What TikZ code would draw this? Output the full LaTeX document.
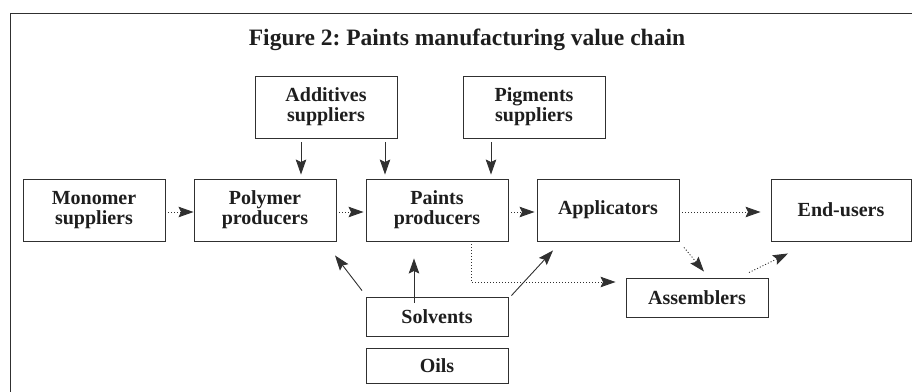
\documentclass[tikz,border=0pt]{standalone}
\usepackage{fontspec}
\setmainfont{Liberation Serif}
\usetikzlibrary{arrows.meta}
\definecolor{ink}{HTML}{1E1E1E}
\definecolor{rule}{HTML}{303030}
\frenchspacing
\begin{document}
\begin{tikzpicture}[x=1pt,y=-1pt,
  box/.style={draw=rule,line width=0.9pt,rectangle,minimum width=142pt,
    minimum height=62pt,inner sep=0pt,align=center,text=ink,
    font=\fontsize{20}{20}\selectfont\bfseries},
  flatbox/.style={box,minimum height=39pt},
  feed/.style={draw=rule,line width=0.9pt,-{Stealth[length=15pt,width=10.5pt,inset=2.5pt]}},
  flow/.style={feed,dash pattern=on 1pt off 2pt},
]
\useasboundingbox (0,0) rectangle (912,391);
% outer frame, open towards the bottom and right
\draw[rule,line width=0.9pt] (10,395) -- (10,13) -- (916,13);
\node[anchor=base,text=ink,font=\fontsize{23.5}{26}\selectfont\bfseries] (title) at (467,45)
  {Figure 2: Paints manufacturing value chain};

% boxes
\node[box] (add)   at (326,107) {Additives\\suppliers};
\node[box] (pig)   at (534,107) {Pigments\\suppliers};
\node[box] (mono)  at (94,210)  {Monomer\\suppliers};
\node[box] (poly)  at (265,210) {Polymer\\producers};
\node[box] (paint) at (437,210) {Paints\\producers};
\node[box] (appl)  at (608,210) {Applicators};
\node[box,minimum width=140pt] (end) at (841,210) {End-users};
\node[flatbox] (asm)  at (697,297.5) {Assemblers};
\node[flatbox] (solv) at (437,316.5) {Solvents};
\node[flatbox,minimum height=35pt] (oils) at (437,365.5) {Oils};

% supplier inputs
\draw[feed] ([xshift=-25pt,yshift=-4pt]add.south) -- ([xshift=36pt,yshift=4pt]poly.north);
\draw[feed] ([xshift=59pt,yshift=-4pt]add.south) -- ([xshift=-52pt,yshift=4pt]paint.north);
\draw[feed] ([xshift=-43pt,yshift=-4pt]pig.south) -- ([xshift=54pt,yshift=4pt]paint.north);

% main chain
\draw[flow] ([yshift=-2pt]mono.east) -- ([yshift=-2pt]poly.west);
\draw[flow] ([yshift=-2pt]poly.east) -- ([xshift=-2pt,yshift=-2pt]paint.west);
\draw[flow] ([yshift=-2pt]paint.east) -- ([xshift=-2pt,yshift=-2pt]appl.west);
\draw[flow] ([yshift=-2pt]appl.east) -- ([xshift=-10pt,yshift=-2pt]end.west);
\draw[flow] ([xshift=34pt]paint.south) |- ([xshift=-10pt,yshift=15.5pt]asm.west);
\draw[flow] ([xshift=76pt,yshift=-6pt]appl.south) -- ([xshift=7pt,yshift=6pt]asm.north);
\draw[flow] ([xshift=52pt,yshift=5pt]asm.north) -- ([xshift=-53pt,yshift=-12pt]end.south);

% solvents
\draw[feed] ([xshift=-75pt,yshift=6pt]solv.north) -- ([xshift=70pt,yshift=-14pt]poly.south);
\draw[feed] ([xshift=-23pt,yshift=-6pt]solv.north) -- ([xshift=-23pt,yshift=-17pt]paint.south);
\draw[feed] ([xshift=3pt,yshift=1pt]solv.north east) -- ([xshift=-55pt,yshift=-9pt]appl.south);
\end{tikzpicture}
\end{document}
